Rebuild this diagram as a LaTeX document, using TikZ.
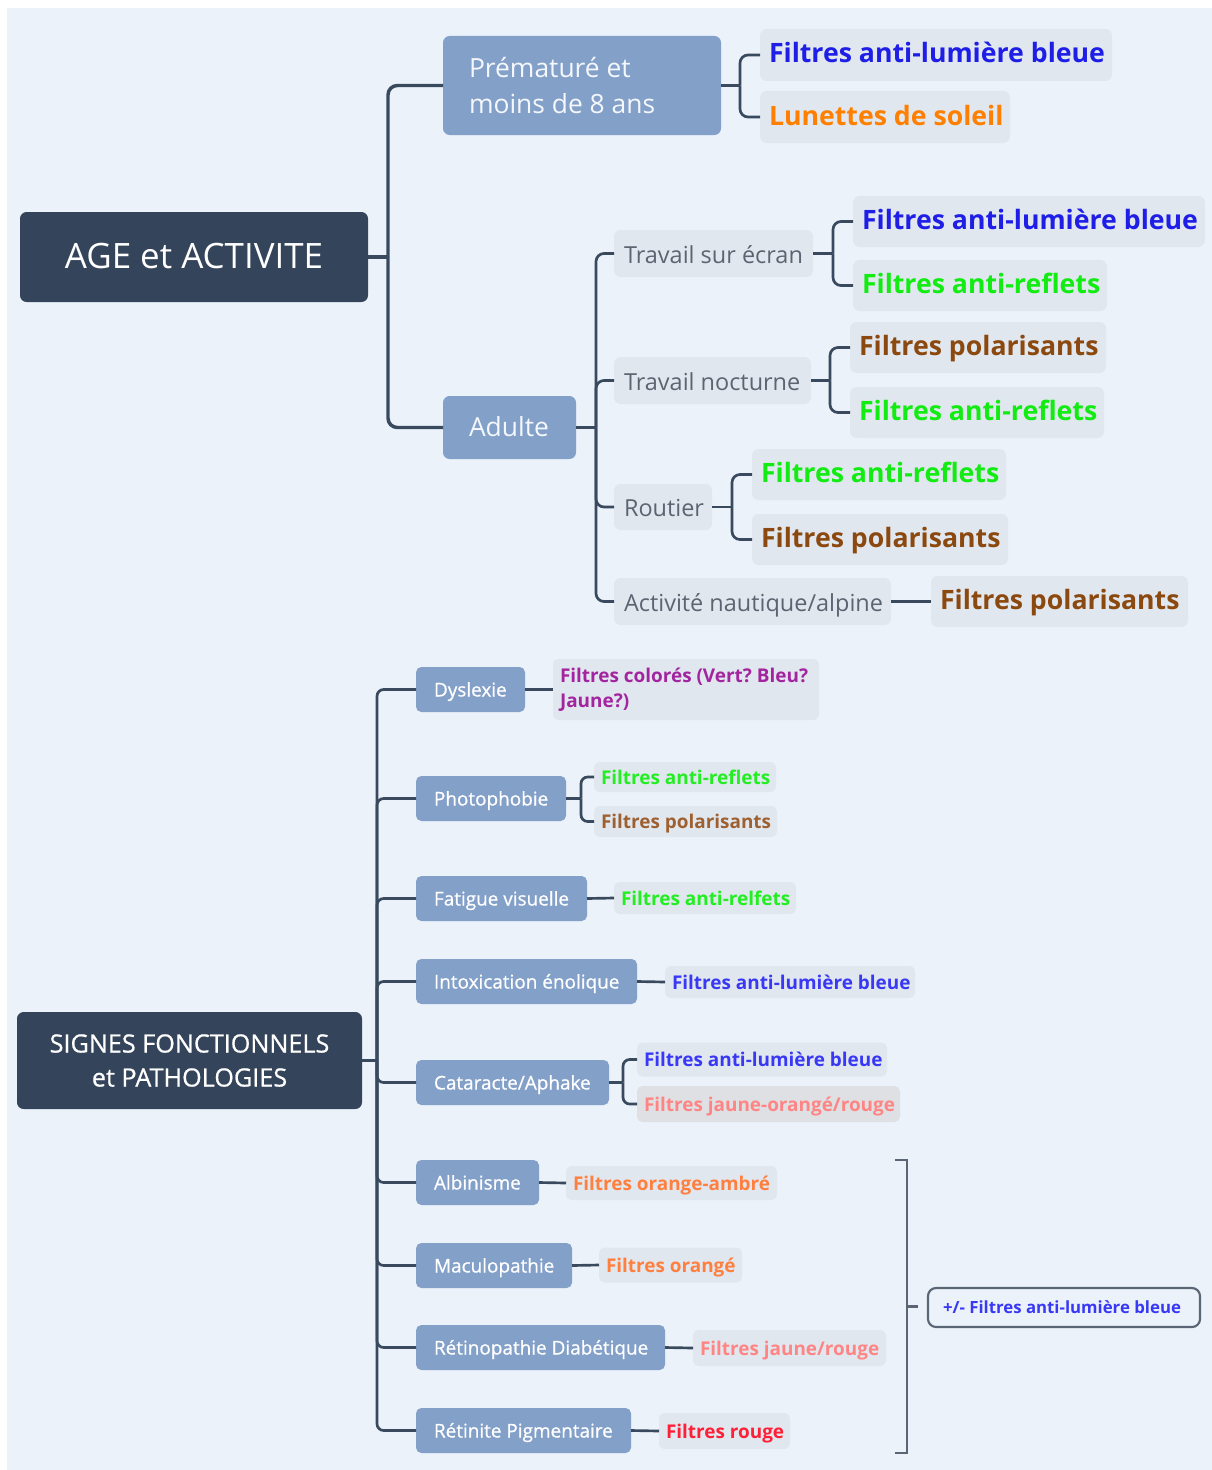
\documentclass[tikz,border=0pt]{standalone}
\usepackage{fontspec}
\setmainfont{Open Sans}
\newfontfamily\lowfont[FakeBold=0.7]{Open Sans}
\usetikzlibrary{calc}
\frenchspacing
\newdimen\pxu \pxu=0.75pt
\def\bo{16}
\newcommand\tl[2]{\makebox[#1\pxu][l]{\rule{0pt}{\bo\pxu}\smash{#2}}}
\newcommand\tc[2]{\makebox[#1\pxu][c]{\rule{0pt}{\bo\pxu}\smash{#2}}}
\definecolor{cbg}{HTML}{EBF2FA}
\definecolor{cdark}{HTML}{34445A}
\definecolor{cbluen}{HTML}{83A0C9}
\definecolor{cleaf}{HTML}{E1E7EF}
\definecolor{cleafb}{HTML}{DFE0E3}
\definecolor{cline}{HTML}{3A4A5E}
\definecolor{cbrk}{HTML}{5A6676}
\definecolor{cwhite}{HTML}{F4F7FB}
\definecolor{cgray}{HTML}{5B6470}
\definecolor{cBlueU}{HTML}{1E1EE6}
\definecolor{cOrangeU}{HTML}{FF8000}
\definecolor{cGreenU}{HTML}{12EC12}
\definecolor{cBrownU}{HTML}{8B4910}
\definecolor{cPurple}{HTML}{A3249F}
\definecolor{cGreenL}{HTML}{22EE22}
\definecolor{cBrownL}{HTML}{9E6030}
\definecolor{cBlueL}{HTML}{3838F5}
\definecolor{cPink}{HTML}{FF8585}
\definecolor{cOrangeL}{HTML}{FF7F3F}
\definecolor{cRed}{HTML}{FF2038}
\begin{document}
\begin{tikzpicture}[x=0.75pt,y=-0.75pt,
  base/.style={anchor=west, rounded corners=5pt, inner ysep=0pt, outer sep=0pt},
  hpx/.style={minimum height=#1*0.75pt},
  padx/.style={inner xsep=#1*0.75pt},
  rootn/.style={base, fill=cdark, text=white, font=\fontsize{26.2}{30}\selectfont\def\bo{22}, padx=43},
  bnode/.style={base, fill=cbluen, text=cwhite, font=\fontsize{19.8}{27}\selectfont\def\bo{17}, padx=26},
  leafU/.style={base, fill=cleaf, font=\bfseries\fontsize{20}{26}\selectfont\def\bo{16}, padx=9},
  subn/.style={base, fill=cleaf, text=cgray, font=\fontsize{17.6}{22}\selectfont\def\bo{19}, padx=10},
  rootL/.style={base, fill=cdark, text=white, font=\lowfont\fontsize{18.9}{25.5}\selectfont, padx=30},
  bnodeL/.style={base, fill=cbluen, text=white, font=\lowfont\fontsize{14.2}{18}\selectfont\def\bo{14}, padx=18, rounded corners=4pt, hpx=45},
  leafL/.style={base, fill=cleaf, font=\bfseries\fontsize{14.2}{18.75}\selectfont\def\bo{14}, padx=7, rounded corners=4pt},
  conn/.style={draw=cline, line width=2.6pt, rounded corners=7pt},
  connS/.style={draw=cline, line width=2pt, rounded corners=6pt},
  connL/.style={draw=cline, line width=2pt, rounded corners=5pt},
  brk/.style={draw=cbrk, line width=1.6pt}
]
\useasboundingbox (0,0) rectangle (1212,1470);
\fill[cbg] (7,8) rectangle (1212,1470);

% ---------- upper tree ----------
\node[rootn, hpx=90] (root) at (20,257) {\tc{262}{AGE et ACTIVITE}};
\node[bnode, hpx=99] (prem) at (443,85.5) {\parbox{226\pxu}{\raggedright Prématuré et\\moins de 8 ans}};
\node[bnode, hpx=63] (adulte) at (443,427.5) {\tl{81}{Adulte}};

\node[leafU, hpx=52, text=cBlueU] (pl1) at (760,55) {\tl{334}{Filtres anti-lumière bleue}};
\node[leafU, hpx=52, text=cOrangeU] (pl2) at (760,117) {\tl{232}{Lunettes de soleil}};

\node[subn, hpx=47] (ts) at (614,253.5) {\tl{179}{Travail sur écran}};
\node[subn, hpx=47] (tn) at (614,380.5) {\tl{177}{Travail nocturne}};
\node[subn, hpx=46] (ro) at (614,507) {\tl{78}{Routier}};
\node[subn, hpx=47] (an) at (614,601.5) {\tl{257}{Activité nautique/alpine}};

\node[leafU, hpx=51, text=cBlueU] (ts1) at (853,221.5) {\tl{334}{Filtres anti-lumière bleue}};
\node[leafU, hpx=51, text=cGreenU] (ts2) at (853,285.5) {\tl{236}{Filtres anti-reflets}};
\node[leafU, hpx=51, text=cBrownU] (tn1) at (850,347.5) {\tl{238}{Filtres polarisants}};
\node[leafU, hpx=51, text=cGreenU] (tn2) at (850,412.5) {\tl{236}{Filtres anti-reflets}};
\node[leafU, hpx=51, text=cGreenU] (ro1) at (752,474.5) {\tl{236}{Filtres anti-reflets}};
\node[leafU, hpx=51, text=cBrownU] (ro2) at (752,539.5) {\tl{238}{Filtres polarisants}};
\node[leafU, hpx=51, text=cBrownU] (an1) at (931,601.5) {\tl{239}{Filtres polarisants}};

\coordinate (jr) at ($(root.east)+(20,0)$);
\draw[conn] (root.east) -- (jr);
\draw[conn] (jr) |- (prem.west);
\draw[conn] (jr) |- (adulte.west);

\coordinate (jp) at ($(prem.east)+(19,0)$);
\draw[connS] (prem.east) -- (jp);
\draw[connS] (jp) |- (pl1.west);
\draw[connS] (jp) |- (pl2.west);

\coordinate (ja) at ($(adulte.east)+(20,0)$);
\draw[connS] (adulte.east) -- (ja);
\foreach \c in {ts,tn,ro,an} \draw[connS] (ja) |- (\c.west);

\coordinate (jts) at ($(ts.east)+(20,0)$);
\draw[connS] (ts.east) -- (jts);
\draw[connS] (jts) |- (ts1.west);
\draw[connS] (jts) |- (ts2.west);

\coordinate (jtn) at ($(tn.east)+(19,0)$);
\draw[connS] (tn.east) -- (jtn);
\draw[connS] (jtn) |- (tn1.west);
\draw[connS] (jtn) |- (tn2.west);

\coordinate (jro) at ($(ro.east)+(20,0)$);
\draw[connS] (ro.east) -- (jro);
\draw[connS] (jro) |- (ro1.west);
\draw[connS] (jro) |- (ro2.west);

\draw[connS] (an.east) -- (an1.west);

% ---------- lower tree ----------
\node[rootL, hpx=97] (root2) at (17,1060.5) {\parbox{285\pxu}{\centering SIGNES FONCTIONNELS\\et PATHOLOGIES}};

\node[bnodeL] (dy) at (416,689.5) {\tl{73}{Dyslexie}};
\node[bnodeL] (ph) at (416,798.5) {\tl{114}{Photophobie}};
\node[bnodeL] (fv) at (416,898.5) {\tl{135}{Fatigue visuelle}};
\node[bnodeL] (ie) at (416,981.5) {\tl{185}{Intoxication énolique}};
\node[bnodeL] (ca) at (416,1082.5) {\tl{157}{Cataracte/Aphake}};
\node[bnodeL] (al) at (416,1182.5) {\tl{87}{Albinisme}};
\node[bnodeL] (ma) at (416,1265.5) {\tl{120}{Maculopathie}};
\node[bnodeL] (rd) at (416,1347.5) {\tl{213}{Rétinopathie Diabétique}};
\node[bnodeL] (rp) at (416,1430.5) {\tl{179}{Rétinite Pigmentaire}};

\node[leafL, hpx=61, text=cPurple] (dy1) at (553,689.5) {\parbox{252\pxu}{\raggedright\rule{0pt}{4\pxu}\mbox{Filtres colorés (Vert? Bleu?}\\Jaune?)}};
\node[leafL, hpx=30, text=cGreenL] (ph1) at (594,777) {\tl{168}{Filtres anti-reflets}};
\node[leafL, hpx=31, text=cBrownL] (ph2) at (594,821.5) {\tl{169}{Filtres polarisants}};
\node[leafL, hpx=32, text=cGreenL] (fv1) at (614,898) {\tl{168}{Filtres anti-relfets}};
\node[leafL, hpx=32, text=cBlueL] (ie1) at (665,982) {\tl{236}{Filtres anti-lumière bleue}};
\node[leafL, hpx=34, text=cBlueL] (ca1) at (637,1059.5) {\tl{236}{Filtres anti-lumière bleue}};
\node[leafL, hpx=36, fill=cleafb, text=cPink] (ca2) at (637,1104) {\tl{249}{Filtres jaune-orangé/rouge}};
\node[leafL, hpx=34, text=cOrangeL] (al1) at (566,1183) {\tl{197}{Filtres orange-ambré}};
\node[leafL, hpx=35, text=cOrangeL] (ma1) at (599,1265) {\tl{129}{Filtres orangé}};
\node[leafL, hpx=36, text=cPink] (rd1) at (693,1348) {\tl{179}{Filtres jaune/rouge}};
\node[leafL, hpx=36, text=cRed] (rp1) at (659,1431) {\tl{117}{Filtres rouge}};

\coordinate (jl) at ($(root2.east)+(15,0)$);
\draw[connL] (root2.east) -- (jl);
\foreach \c in {dy,ph,fv,ie,ca,al,ma,rd,rp} \draw[connL] (jl) |- (\c.west);

\draw[connL] (dy.east) -- (dy1.west);
\coordinate (jph) at ($(ph.east)+(15,0)$);
\draw[connL] (ph.east) -- (jph);
\draw[connL] (jph) |- (ph1.west);
\draw[connL] (jph) |- (ph2.west);
\draw[connL] (fv.east) -- (fv1.west);
\draw[connL] (ie.east) -- (ie1.west);
\coordinate (jca) at ($(ca.east)+(14,0)$);
\draw[connL] (ca.east) -- (jca);
\draw[connL] (jca) |- (ca1.west);
\draw[connL] (jca) |- (ca2.west);
\draw[connL] (al.east) -- (al1.west);
\draw[connL] (ma.east) -- (ma1.west);
\draw[connL] (rd.east) -- (rd1.west);
\draw[connL] (rp.east) -- (rp1.west);

% right bracket and summary
\coordinate (bt) at (895,1160);
\coordinate (bb) at (895,1453);
\coordinate (bm) at (907,1306.5);
\draw[brk] (bt) -- ++(12,0) |- (bb);
\draw[brk] (bm) -- ++(11,0);
\node[base, hpx=39, draw=cbrk, line width=1.6pt, fill=cbg, rounded corners=6pt, padx=15,
      text=cBlueL, font=\bfseries\fontsize{12.6}{16}\selectfont\def\bo{11}] (pm) at (928,1307.5) {\tl{242}{+/- Filtres anti-lumière bleue}};
\end{tikzpicture}
\end{document}
